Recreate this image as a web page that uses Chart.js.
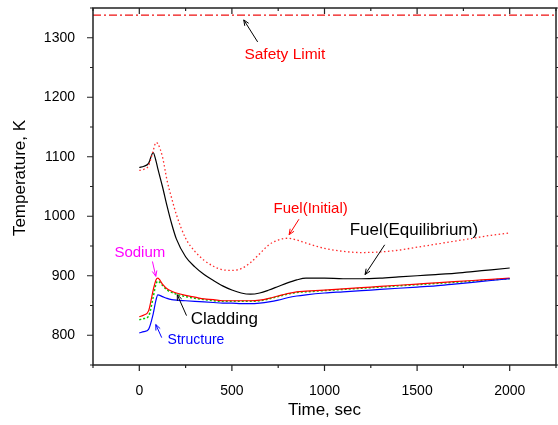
<!DOCTYPE html>
<html>
<head>
<meta charset="utf-8">
<script src="https://cdn.jsdelivr.net/npm/chart.js@4/dist/chart.umd.min.js"></script>
<style>
  body { margin: 0; background: #fff; }
  canvas { display: block; }
</style>
</head>
<body>
<canvas id="chart" width="558" height="425"></canvas>
<script>
// time axis (sec)
var times = [0, 25, 50, 75, 90, 100, 125, 150, 175, 200, 250, 300, 350, 400, 450, 500, 550, 600,
    650, 700, 750, 800, 850, 900, 1000, 1100, 1200, 1300, 1400, 1500, 1600, 1700, 1800, 1900, 2000];

// temperatures (K)
var fuelEquilibrium = [1082, 1084, 1089, 1107, 1093, 1080, 1050, 1017, 987, 962, 932, 915, 902, 892, 883, 876, 871, 869,
    871, 876, 882, 888, 893, 896, 896, 895, 895, 896, 898, 900, 902, 904, 907, 910, 913];
var fuelInitial = [1077, 1079, 1085, 1110, 1124, 1122, 1100, 1060, 1030, 1003, 963, 941, 926, 916, 910, 909, 912, 922,
    937, 952, 960, 963, 960, 955, 946, 941, 939, 940, 943, 948, 953, 958, 963, 968, 972];
var sodium = [831, 834, 841, 876, 893, 896, 886, 878, 874, 871, 867, 864, 861, 860, 858, 858, 858, 858,
    859, 862, 866, 870, 873, 874, 876, 878, 880, 882, 884, 886, 888, 890, 892, 894, 896];
var cladding = [826, 828, 832, 864, 886, 891, 884, 876, 872, 869, 865, 862, 860, 858, 857, 857, 857, 857,
    858, 861, 865, 869, 872, 873, 875, 877, 879, 881, 883, 885, 887, 889, 891, 893, 895];
var structure = [804, 806, 810, 836, 859, 868, 865, 862, 860, 859, 858, 857, 856, 855, 854, 854, 853, 853,
    854, 856, 859, 863, 866, 868, 871, 873, 875, 877, 879, 881, 883, 886, 889, 892, 895];

var safetyLimit = 1338;
var xTicks = [0, 500, 1000, 1500, 2000];
var yTicks = [800, 900, 1000, 1100, 1200, 1300];

function pts(vals) {
    return times.map(function (t, i) { return { x: t, y: vals[i] }; });
}

// text labels with arrows, in data units
var notes = [
    { text: 'Safety Limit', color: '#ff0000', size: 15.5, x: 786, y: 1272, from: [639, 1293], to: [564, 1330], arrow: '#000' },
    { text: 'Fuel(Initial)', color: '#ff0000', size: 15, x: 925, y: 1013, from: [862, 995], to: [809, 969], arrow: '#ff0000' },
    { text: 'Fuel(Equilibrium)', color: '#000', size: 17, x: 1483, y: 977, from: [1325, 952], to: [1219, 902], arrow: '#000' },
    { text: 'Sodium', color: '#ff00ff', size: 15, x: 3, y: 939, from: [71, 924], to: [89, 899], arrow: '#ff00ff' },
    { text: 'Cladding', color: '#000', size: 17, x: 459, y: 827, from: [255, 833], to: [205, 868], arrow: '#000' },
    { text: 'Structure', color: '#0000ff', size: 14, x: 306, y: 791, from: [121, 796], to: [89, 818], arrow: '#0000ff' }
];

var FONT = '"Liberation Sans", Arial, sans-serif';

var framePlugin = {
    id: 'frame',
    afterDraw: function (chart) {
        var ctx = chart.ctx, a = chart.chartArea;
        var xs = chart.scales.x, ys = chart.scales.y;
        ctx.save();
        ctx.strokeStyle = '#222';
        ctx.lineWidth = 1.5;
        ctx.strokeRect(a.left, a.top, a.right - a.left, a.bottom - a.top);

        ctx.lineWidth = 1.2;
        ctx.beginPath();
        for (var t = -250; t <= 2250; t += 250) {
            var px = xs.getPixelForValue(t);
            var len = (t % 500 === 0) ? 6 : 3;
            ctx.moveTo(px, a.bottom); ctx.lineTo(px, a.bottom + len);
            ctx.moveTo(px, a.top); ctx.lineTo(px, a.top + len);
        }
        for (var v = 750; v <= 1350; v += 50) {
            var py = ys.getPixelForValue(v);
            var l2 = (v % 100 === 0) ? 6 : 3;
            ctx.moveTo(a.left, py); ctx.lineTo(a.left - l2, py);
            ctx.moveTo(a.right, py); ctx.lineTo(a.right + l2, py);
        }
        ctx.stroke();

        // annotations
        notes.forEach(function (n) {
            ctx.font = n.size + 'px ' + FONT;
            ctx.fillStyle = n.color;
            ctx.textAlign = 'center';
            ctx.textBaseline = 'middle';
            ctx.fillText(n.text, xs.getPixelForValue(n.x), ys.getPixelForValue(n.y));

            var x1 = xs.getPixelForValue(n.from[0]), y1 = ys.getPixelForValue(n.from[1]);
            var x2 = xs.getPixelForValue(n.to[0]), y2 = ys.getPixelForValue(n.to[1]);
            var ang = Math.atan2(y2 - y1, x2 - x1);
            ctx.strokeStyle = n.arrow;
            ctx.lineWidth = 1;
            ctx.beginPath();
            ctx.moveTo(x1, y1); ctx.lineTo(x2, y2);
            ctx.moveTo(x2 - 6 * Math.cos(ang - 0.4), y2 - 6 * Math.sin(ang - 0.4));
            ctx.lineTo(x2, y2);
            ctx.lineTo(x2 - 6 * Math.cos(ang + 0.4), y2 - 6 * Math.sin(ang + 0.4));
            ctx.stroke();
        });

        // y axis title
        ctx.font = '17px ' + FONT;
        ctx.fillStyle = '#000';
        ctx.textAlign = 'center';
        ctx.textBaseline = 'middle';
        ctx.translate(20, 178);
        ctx.rotate(-Math.PI / 2);
        ctx.fillText('Temperature, K', 0, 0);
        ctx.restore();
    }
};

new Chart(document.getElementById('chart').getContext('2d'), {
    type: 'line',
    data: {
        datasets: [
            { label: 'Safety Limit', data: [{ x: -250, y: safetyLimit }, { x: 2250, y: safetyLimit }],
              borderColor: '#ee1111', borderWidth: 1.2, borderDash: [8, 3, 2, 3] },
            { label: 'Structure', data: pts(structure), borderColor: '#0000ff', borderWidth: 1.2 },
            { label: 'Sodium', data: pts(sodium), borderColor: '#ff0000', borderWidth: 1.2 },
            { label: 'Cladding', data: pts(cladding), borderColor: '#00cc00', borderWidth: 1.5, borderDash: [2, 2] },
            { label: 'Fuel(Initial)', data: pts(fuelInitial), borderColor: '#ff2a2a', borderWidth: 1.3, borderDash: [1.5, 2.5] },
            { label: 'Fuel(Equilibrium)', data: pts(fuelEquilibrium), borderColor: '#000000', borderWidth: 1.2 }
        ]
    },
    options: {
        responsive: false,
        animation: false,
        layout: { padding: { top: 8, right: 2, left: 0, bottom: 0 } },
        elements: { point: { radius: 0 }, line: { cubicInterpolationMode: 'monotone', fill: false } },
        plugins: { legend: { display: false }, tooltip: { enabled: false } },
        scales: {
            x: {
                type: 'linear', min: -250, max: 2250,
                grid: { display: false }, border: { display: false },
                afterBuildTicks: function (s) { s.ticks = xTicks.map(function (v) { return { value: v }; }); },
                afterFit: function (s) { s.height = 60; s.paddingLeft = 0; s.paddingRight = 0; },
                ticks: { color: '#000', padding: 10, maxRotation: 0, font: { family: FONT, size: 14 },
                         callback: function (v) { return String(v); } },
                title: { display: true, text: 'Time, sec', color: '#000', padding: { top: 4, bottom: 4 }, font: { family: FONT, size: 17 } }
            },
            y: {
                min: 750, max: 1350,
                grid: { display: false }, border: { display: false },
                afterBuildTicks: function (s) { s.ticks = yTicks.map(function (v) { return { value: v }; }); },
                afterFit: function (s) { s.width = 93; s.paddingTop = 0; s.paddingBottom = 0; },
                ticks: { color: '#000', padding: 10, font: { family: FONT, size: 14 },
                         callback: function (v) { return String(v); } }
            }
        }
    },
    plugins: [framePlugin]
});
</script>
</body>
</html>
